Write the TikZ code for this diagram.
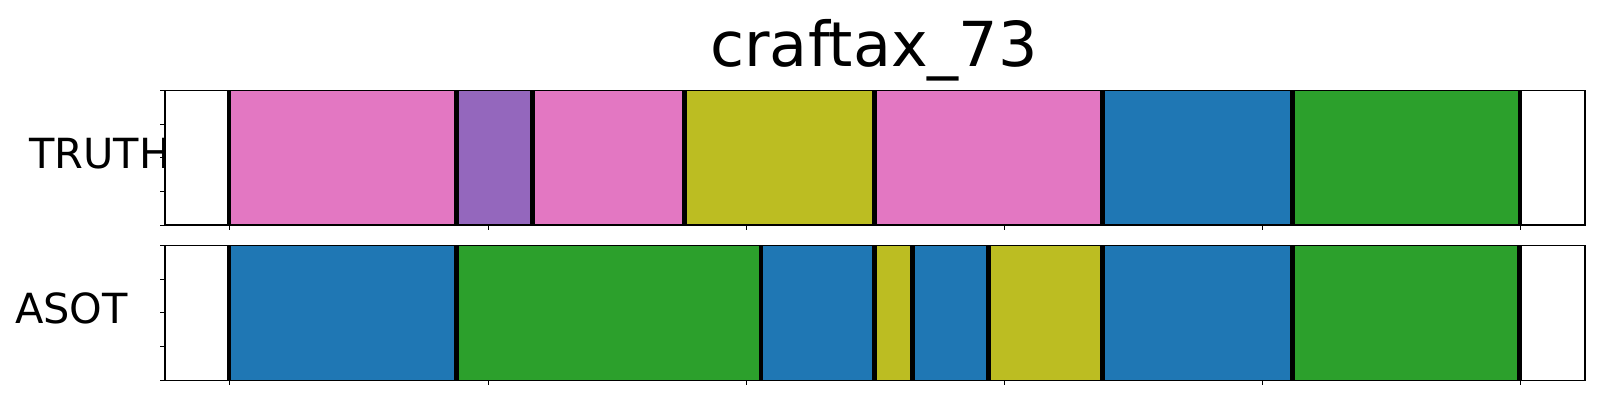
\documentclass[tikz,border=0pt]{standalone}
\usepackage{fontspec}
\setmainfont{DejaVu Sans}
\definecolor{Pink}{HTML}{E377C2}
\definecolor{Purple}{HTML}{9467BD}
\definecolor{Olive}{HTML}{BCBD22}
\definecolor{Blue}{HTML}{1F77B4}
\definecolor{Green}{HTML}{2CA02C}
\begin{document}
\begin{tikzpicture}[x=1pt,y=-1pt,
  cut/.style={line width=4.5pt,draw=black},
  frame/.style={line width=1.2pt,draw=black},
  tick/.style={line width=1pt,draw=black},
  rowlabel/.style={anchor=base west,inner sep=0pt,font=\fontsize{41.5}{50}\selectfont},
  titlelabel/.style={anchor=base,inner sep=0pt,font=\fontsize{62}{74}\selectfont}
]
\useasboundingbox (0,0) rectangle (1600,400);
\node[titlelabel] (title) at (874,66) {craftax\_73};
\node[rowlabel] (truth) at (29,168.3) {TRUTH};
\node[rowlabel] (asot) at (15,323.3) {ASOT};
% truth row
\fill[white] (165,90.3) rectangle (1585,225);
\foreach \a/\b/\c in {229/456.7/Pink,456.7/532.7/Purple,532.7/684.7/Pink,684.7/874.7/Olive,
  874.7/1102.7/Pink,1102.7/1292.7/Blue,1292.7/1520/Green}
  \fill[\c] (\a,90.3) rectangle (\b,225);
\foreach \x in {229,456.7,532.7,684.7,874.7,1102.7,1292.7,1520}
  \draw[cut] (\x,90.3) -- (\x,225);
\draw[frame] (165,90.3) rectangle (1585,225);
% asot row
\fill[white] (165,245.3) rectangle (1585,380.3);
\foreach \a/\b/\c in {229/456.7/Blue,456.7/761/Green,761/874.7/Blue,874.7/912.7/Olive,
  912.7/988.7/Blue,988.7/1102.7/Olive,1102.7/1292.7/Blue,1292.7/1519.5/Green}
  \fill[\c] (\a,245.3) rectangle (\b,380.3);
\foreach \x in {229,456.7,761,874.7,912.7,988.7,1102.7,1292.7,1519.5}
  \draw[cut] (\x,245.3) -- (\x,380.3);
\draw[frame] (165,245.3) rectangle (1585,380.3);
% ticks
\foreach \t in {229,488.3,746.7,1004.3,1262.3,1520}{
  \draw[tick] (\t,225) -- (\t,230);
  \draw[tick] (\t,380.3) -- (\t,385.3);
}
\foreach \t in {0,33.7,67.5,101.2,135}{
  \draw[tick] (165,90.3+\t) -- (160,90.3+\t);
  \draw[tick] (165,245.3+\t) -- (160,245.3+\t);
}
\end{tikzpicture}
\end{document}
